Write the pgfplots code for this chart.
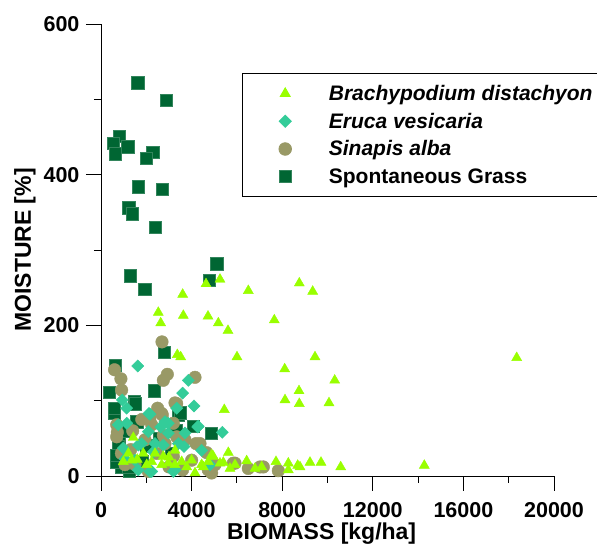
\documentclass[border=0pt]{standalone}
\usepackage{pgfplots}
\pgfplotsset{compat=1.18}
\usepackage{fontspec}
\setmainfont{Liberation Sans}
\definecolor{cBD}{HTML}{99FF00}
\definecolor{cEV}{HTML}{33CC99}
\definecolor{cSA}{HTML}{999966}
\definecolor{cSG}{HTML}{006633}
\begin{document}
\begin{tikzpicture}
\useasboundingbox (-101pt,-69pt) rectangle (496pt,476pt);
\begin{axis}[
  scale only axis,
  width=453pt, height=452pt,
  xmin=0, xmax=20000, ymin=0, ymax=600,
  axis lines=left,
  axis line style={-, line width=0.8pt},
  xtick={0,4000,...,20000}, ytick={0,200,400,600},
  scaled x ticks=false,
  minor x tick num=1, minor y tick num=1,
  tick align=outside,
  major tick length=15pt, minor tick length=7pt,
  every tick/.style={black, line width=0.8pt},
  /pgf/number format/1000 sep={},
  /pgf/number format/assume math mode=true,
  ticklabel style={font=\bfseries\fontsize{21.5}{25}\selectfont},
  xticklabel style={yshift=-8pt},
  yticklabel style={xshift=-3pt},
  xlabel={BIOMASS [kg/ha]},
  ylabel={MOISTURE [\%]},
  xlabel style={font=\bfseries\fontsize{23}{28}\selectfont, at={(axis description cs:0.487,-0.141)}, anchor=base},
  ylabel style={font=\bfseries\fontsize{23}{28}\selectfont, at={(axis description cs:-0.155,0.5)}, anchor=base},
  clip=false,
  reverse legend,
  legend cell align=left,
  legend image code/.code={\path (-0.3cm,0) (1.45cm,0); \draw[#1] plot coordinates {(0cm,0cm)};},
  legend style={at={(axis description cs:0.311,0.892)}, anchor=north west,
    font=\bfseries\fontsize{21}{25}\selectfont, draw=black, line width=0.8pt,
    inner xsep=34pt, inner ysep=10pt, row sep=7pt},
]
\addplot[only marks, mark=square*, mark size=6.2pt, mark options={fill=cSG, draw=cSG!80!white, line width=0.4pt}] coordinates {
(1620,522) (2870,499) (795,451) (545,442) (1178,437) (633,428) (2282,430) (1987,422)
(1648,384) (2693,381) (1222,356) (1383,348) (2398,330) (1295,266) (5108,282) (4768,260)
(1928,248) (2796,164) (618,147) (353,111) (2354,113) (1470,99) (587,84) (3413,81)
(1576,72) (4857,57) (809,48) (765,39) (912,12) (1236,6) (4075,66) (574,90) (1501,96)
(3488,84) (693,19) (1205,12) (1100,60) (700,28) (2000,40) (2600,50) (3100,30) (1800,20) (3300,60)
};
\addlegendentry{Spontaneous Grass}
\addplot[only marks, mark=*, mark size=6.3pt, mark options={fill=cSA, draw=cSA}] coordinates {
(2693,178) (600,141) (2929,135) (2752,127) (880,129) (912,114) (4150,131) (3342,96)
(2707,81) (693,68) (721,58) (4194,43) (4664,31) (5033,15) (5841,17) (6503,10) (7166,12)
(7828,7) (4885,4) (1310,35) (1943,48) (2163,77) (3193,70) (3342,52) (2752,54) (2459,30)
(4002,21) (3193,26) (1501,15) (2090,6) (5916,17) (7020,12) (4737,8) (4371,43) (693,52)
(2679,83) (3267,97) (2237,68) (3709,48) (2826,43) (1060,15) (1400,60) (1800,75) (3000,12)
(3600,8) (2500,90) (900,30)
};
\addlegendentry{\textit{Sinapis alba}}
\addplot[only marks, mark=square*, mark size=4.3pt, mark options={rotate=45, fill=cEV, draw=cEV}] coordinates {
(1620,146) (3855,127) (3607,110) (3342,90) (4106,93) (940,101) (1134,90) (2119,83)
(4269,65) (5356,58) (765,68) (1134,70) (2636,65) (2973,70) (2090,59) (3709,57) (1796,43)
(2752,41) (3665,39) (4444,34) (1501,21) (2163,6) (3267,8) (4812,15) (986,37) (2310,32)
(2826,72) (2973,57) (2384,43) (1648,41) (3413,43) (1060,23) (1648,8) (2237,6) (3193,6)
(4296,66) (2163,82)
};
\addlegendentry{\textit{Eruca vesicaria}}
\addplot[only marks, mark=triangle*, mark size=5.8pt, mark options={fill=cBD, draw=cBD}] coordinates {
(5254,261) (4636,255) (3606,241) (6504,246) (8755,256) (9346,245) (3635,213) (4724,212)
(5180,203) (5607,193) (7651,207) (3518,158) (6004,158) (9448,158) (8110,142) (10318,127)
(8742,113) (2530,217) (2636,203) (3370,161) (8124,101) (8755,96) (10066,97) (5444,88)
(5621,31) (18353,157) (9227,18) (9713,18) (10583,12) (14274,14) (8786,12) (4958,26)
(5254,17) (6432,20) (5916,15) (6799,10) (7094,12) (7726,19) (8270,17) (8684,14) (5695,10)
(4517,12) (8270,8) (1427,51) (1207,30) (1868,30) (2384,30) (2752,26) (3267,34) (2237,19)
(2973,17) (3562,19) (4002,21) (4444,15) (4150,4) (1354,21) (986,19) (2018,15) (2679,15)
(3267,15) (3783,12) (4885,28) (4737,19) (5400,18) (3000,25) (1600,22)
};
\addlegendentry{\textit{Brachypodium distachyon}}
\end{axis}
\end{tikzpicture}
\end{document}
